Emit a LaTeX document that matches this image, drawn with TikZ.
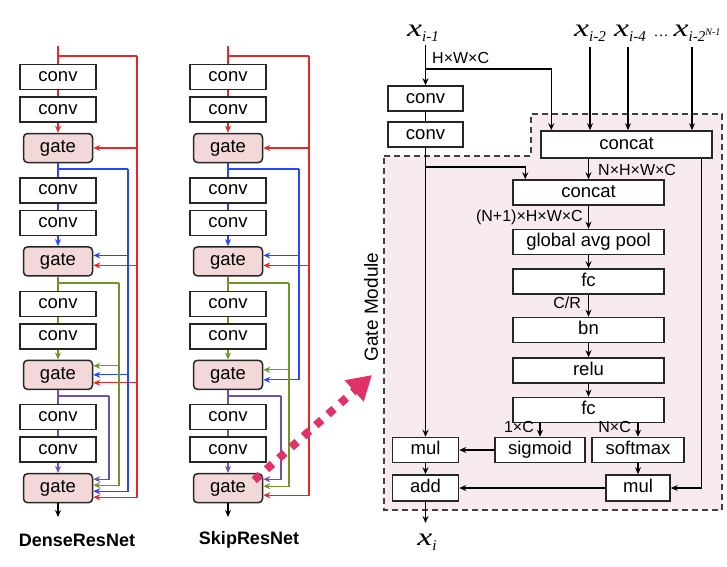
\documentclass[tikz,border=0pt]{standalone}
\usepackage{fontspec}
\setsansfont{Liberation Sans}
\newfontfamily\tms{Liberation Serif}
\usetikzlibrary{arrows.meta,positioning,calc}
\definecolor{cred}{RGB}{228,40,42}
\definecolor{cblue}{RGB}{38,72,250}
\definecolor{cgreen}{RGB}{112,150,42}
\definecolor{cpurple}{RGB}{112,78,172}
\definecolor{gatepink}{RGB}{243,216,218}
\definecolor{regionpink}{RGB}{247,235,237}
\definecolor{zoompink}{RGB}{224,50,104}
\tikzset{blk/.style={draw=black!85,line width=1.5pt,fill=white,minimum height=25pt,inner sep=0pt,
    text height=13pt,text depth=4pt,font=\sffamily\fontsize{18.5}{20}\selectfont},
  convbox/.style={blk,minimum width=76pt},
  gatebox/.style={blk,rounded corners=4pt,fill=gatepink,minimum width=69pt,minimum height=29pt},
  wire/.style={line width=1.2pt},
  arr/.style={wire,-{Stealth[length=7pt,width=6pt]}},
  lbl/.style={inner sep=0pt,font=\sffamily\fontsize{16}{17}\selectfont},
  xlab/.style={inner sep=0pt,font=\tms\fontsize{25}{27}\selectfont},
  netname/.style={font=\sffamily\bfseries\fontsize{18}{20}\selectfont},
  zoomarr/.style={zoompink,line width=8pt,dash pattern=on 8pt off 8.5pt,-{Triangle[length=24pt,width=27pt]}}}
\newcommand{\xsub}[1]{\scalebox{1.35}[1]{\itshape x}\raisebox{-5pt}{\fontsize{15}{16}\selectfont\itshape #1}}
\newcommand{\feed}[4]{\path (#3.east) ++(0,#4) coordinate (ft); \draw[arr,#1] (#2) |- (ft);}

\begin{document}
\begin{tikzpicture}[x=1pt,y=-1pt]
\useasboundingbox (0,0) rectangle (727,566);

% the two networks
\foreach \col/\cx in {d/58,s/228}{
  \foreach \k/\c in {1/cred,2/cblue,3/cgreen,4/cpurple}{
    \pgfmathsetmacro{\gy}{148+113.4*(\k-1)}
    \node[convbox] (\col-ca\k) at (\cx,\gy-71) {conv};
    \node[convbox] (\col-cb\k) at (\cx,\gy-38.5) {conv};
    \node[gatebox] (\col-g\k) at (\cx,\gy) {gate};
    \draw[wire,\c] (\col-ca\k) -- (\col-cb\k);
    \draw[arr,\c] (\col-cb\k) -- (\col-g\k);
  }
  \coordinate (\col-top) at (\cx,46);
  \coordinate (\col-out) at (\cx,517);
  \draw[wire,cred] (\col-top) -- (\col-ca1);
  \draw[wire,cblue] (\col-g1) -- (\col-ca2);
  \draw[wire,cgreen] (\col-g2) -- (\col-ca3);
  \draw[wire,cpurple] (\col-g3) -- (\col-ca4);
  \draw[arr] (\col-g4) -- (\col-out);
}

\coordinate (d-rr) at (137,56);
\coordinate (d-rb) at (128,169);
\coordinate (d-rg) at (119,283);
\coordinate (d-rp) at (109,396);
\coordinate (s-rr) at (309,56);
\coordinate (s-rb) at (299,169);
\coordinate (s-rg) at (289,283);
\coordinate (s-rp) at (281,396);
\foreach \col in {d,s}{
  \draw[wire,cred] (\col-top |- \col-rr) -- (\col-rr);
  \draw[wire,cblue] (\col-g1 |- \col-rb) -- (\col-rb);
  \draw[wire,cgreen] (\col-g2 |- \col-rg) -- (\col-rg);
  \draw[wire,cpurple] (\col-g3 |- \col-rp) -- (\col-rp);
}
\foreach \c/\b/\g/\dy in {cred/d-rr/d-g1/0,cred/d-rr/d-g2/4,cred/d-rr/d-g3/8,cred/d-rr/d-g4/9,
    cblue/d-rb/d-g2/-6,cblue/d-rb/d-g3/0,cblue/d-rb/d-g4/3,
    cgreen/d-rg/d-g3/-9,cgreen/d-rg/d-g4/-3,cpurple/d-rp/d-g4/-9,
    cred/s-rr/s-g1/0,cred/s-rr/s-g2/4,cred/s-rr/s-g4/7,
    cblue/s-rb/s-g2/-6,cblue/s-rb/s-g3/5,
    cgreen/s-rg/s-g3/-5,cgreen/s-rg/s-g4/-2,cpurple/s-rp/s-g4/-9}
  {\feed{\c}{\b}{\g}{\dy}}

\node[netname] (dname) at (77,540) {DenseResNet};
\node[netname] (sname) at (249,540) {SkipResNet};

% gate module
\fill[regionpink] (384,156) -- (531,156) -- (531,114) -- (722,114) -- (722,510) -- (384,510) -- cycle;
\draw[black!75,line width=1.3pt,dash pattern=on 6pt off 4pt]
  (384,156) -- (531,156) -- (531,114) -- (722,114) -- (722,510) -- (384,510) -- cycle;
\node[rotate=90,font=\sffamily\fontsize{19}{20}\selectfont] (gm) at (371,307) {Gate Module};

\node[xlab,anchor=base] (xa) at (423,36) {\xsub{i-1}};
\node[xlab,anchor=base] (xb) at (590,36) {\xsub{i-2}};
\node[xlab,anchor=base] (xc) at (630,36) {\xsub{i-4}};
\node[xlab,anchor=base,font=\tms\fontsize{15}{16}\selectfont] (xdots) at (661,36) {\dots};
\node[xlab,anchor=base] (xd) at (697,36) {\xsub{i-2\raisebox{6pt}{\fontsize{10}{11}\selectfont N-1}}};
\coordinate (in1) at (425.5,45);
\coordinate (in2) at (590,47);
\coordinate (in4) at (628,47);
\coordinate (inN) at (692,47);

\node[blk,minimum width=75pt] (rc1) at (425.5,98.5) {conv};
\node[blk,minimum width=75pt] (rc2) at (425.5,134.5) {conv};
\node[blk,minimum width=171pt,minimum height=27pt] (cat1) at (626.5,144.5) {concat};
\node[blk,minimum width=151pt] (cat2) at (588.5,192.5) {concat};
\node[blk,minimum width=151pt,below=23pt of cat2] (gap) {global avg pool};
\node[blk,minimum width=151pt,below=13pt of gap] (fc1) {fc};
\node[blk,minimum width=151pt,below=22pt of fc1] (bn) {bn};
\node[blk,minimum width=151pt,below=14pt of bn] (relu) {relu};
\node[blk,minimum width=151pt,below=13pt of relu] (fc2) {fc};
\node[blk,minimum width=90pt] (sig) at (540,450) {sigmoid};
\node[blk,minimum width=92pt] (soft) at (638,450) {softmax};
\node[blk,minimum width=66pt] (mul1) at (425.5,450) {mul};
\node[blk,minimum width=66pt,minimum height=26pt] (add) at (425.5,488) {add};
\node[blk,minimum width=64pt,minimum height=26pt] (mul2) at (638,488) {mul};
\coordinate (br1) at (425.5,69);
\coordinate (br2) at (425.5,167);
\coordinate (xout) at (425.5,523);
\node[xlab] (xo) at (427,542) {\xsub{i}};

\draw[arr] (in1) -- (rc1);
\node[lbl,anchor=west] (hwc) at (432,58) {H×W×C};
\draw[arr] (br1) -| ([xshift=11pt]cat1.north west);
\draw[arr] (in2) -- (in2 |- cat1.north);
\draw[arr] (in4) -- (in4 |- cat1.north);
\draw[arr] (inN) -- (inN |- cat1.north);
\draw[wire] (rc1) -- (rc2);
\draw[arr] (rc2) -- (mul1);
\draw[arr] (br2) -| ([xshift=13pt]cat2.north west);
\draw[arr] (cat1.south -| cat2) -- (cat2);
\node[lbl,anchor=west] (nhwc) at (598,170) {N×H×W×C};
\draw[arr] ([xshift=-11pt]cat1.south east) |- (mul2);
\draw[arr] (cat2) -- (gap);
\node[lbl,anchor=east] (n1hwc) at (583,217) {(N+1)×H×W×C};
\draw[arr] (gap) -- (fc1);
\draw[arr] (fc1) -- (bn);
\node[lbl,anchor=east] (cr) at (581,303) {C/R};
\draw[arr] (bn) -- (relu);
\draw[arr] (relu) -- (fc2);
\draw[arr] (fc2.south -| sig) -- (sig);
\draw[arr] (fc2.south -| soft) -- (soft);
\node[lbl,anchor=east] (onec) at (534,427) {1×C};
\node[lbl,anchor=east] (nc) at (631,427) {N×C};
\draw[arr] (sig) -- (mul1);
\draw[arr] (soft) -- (mul2);
\draw[arr] (mul1) -- (add);
\draw[arr] (mul2) -- (add);
\draw[arr] (add) -- (xout);

% zoom into the gate
\coordinate (zoomtip) at (372,375);
\draw[zoomarr] ($(s-g4.east)+(-9,-8)$) -- (zoomtip);
\end{tikzpicture}
\end{document}
